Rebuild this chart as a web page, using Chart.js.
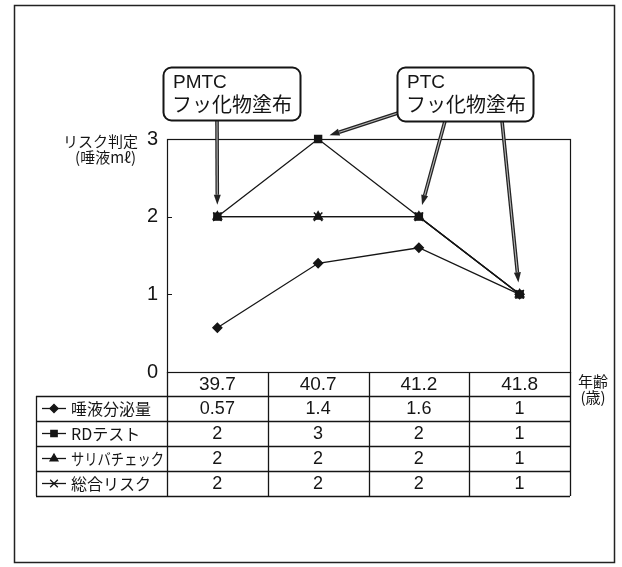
<!DOCTYPE html>
<html>
<head>
<meta charset="utf-8">
<script src="https://cdn.jsdelivr.net/npm/chart.js@4/dist/chart.umd.min.js"></script>
<style>
  html, body { margin: 0; padding: 0; background: #fff; }
</style>
</head>
<body>
<canvas id="riskChart" width="622" height="567"></canvas>
<script>
const ages = ['39.7', '40.7', '41.2', '41.8'];
const saliva = [0.57, 1.4, 1.6, 1];
const rdTest = [2, 3, 2, 1];
const salivaCheck = [2, 2, 2, 1];
const totalRisk = [2, 2, 2, 1];
const yTicks = [0, 1, 2, 3];
const seriesNames = ['唾液分泌量', 'RDテスト', 'サリバチェック', '総合リスク'];

const INK = '#151515';
const NUM_FONT = '"Liberation Sans", Arial, sans-serif';
const JP_FONT = '"Noto Sans CJK JP", sans-serif';

// callout boxes; each arrow points at [dataset, index]
const notes = [
    { lines: ['PMTC', 'フッ化物塗布'], box: [163, 67, 137, 53],
      arrows: [{ from: [217, 120], to: [1, 0] }] },
    { lines: ['PTC', 'フッ化物塗布'], box: [397, 67, 136, 54],
      arrows: [{ from: [398, 113], to: [1, 1] },
               { from: [445, 121], to: [1, 2] },
               { from: [502, 121], to: [1, 3] }] }
];

function drawArrow(ctx, x0, y0, tx, ty) {
    const dx = tx - x0, dy = ty - y0;
    const len = Math.hypot(dx, dy);
    const ux = dx / len, uy = dy / len;
    const tipX = tx - ux * 12, tipY = ty - uy * 12;
    const baseX = tipX - ux * 10, baseY = tipY - uy * 10;
    ctx.save();
    ctx.lineCap = 'butt';
    ctx.strokeStyle = '#222';
    ctx.lineWidth = 3.6;
    ctx.beginPath(); ctx.moveTo(x0, y0); ctx.lineTo(baseX, baseY); ctx.stroke();
    ctx.strokeStyle = '#b5b5b5';
    ctx.lineWidth = 1.1;
    ctx.beginPath(); ctx.moveTo(x0, y0); ctx.lineTo(baseX, baseY); ctx.stroke();
    ctx.fillStyle = '#222';
    ctx.beginPath();
    ctx.moveTo(tipX, tipY);
    ctx.lineTo(baseX - uy * 3.5, baseY + ux * 3.5);
    ctx.lineTo(baseX + uy * 3.5, baseY - ux * 3.5);
    ctx.closePath();
    ctx.fill();
    ctx.restore();
}

const riskFrame = {
    id: 'riskFrame',
    beforeDraw(chart) {
        const ctx = chart.ctx;
        ctx.save();
        ctx.fillStyle = '#fff';
        ctx.fillRect(0, 0, chart.width, chart.height);
        ctx.strokeStyle = '#222';
        ctx.lineWidth = 1.5;
        ctx.strokeRect(14.5, 5.5, 600, 557);
        ctx.restore();
    },
    beforeDatasetsDraw(chart) {
        const ctx = chart.ctx, ca = chart.chartArea, y = chart.scales.y;
        ctx.save();
        ctx.strokeStyle = INK;
        ctx.lineWidth = 1.2;
        ctx.strokeRect(ca.left + 0.5, ca.top + 0.5, ca.right - ca.left, ca.bottom - ca.top);
        ctx.beginPath();
        yTicks.forEach(v => {
            const py = Math.round(y.getPixelForValue(v)) + 0.5;
            ctx.moveTo(ca.left, py);
            ctx.lineTo(ca.left + 5, py);
        });
        ctx.stroke();
        ctx.restore();
    },
    afterDraw(chart) {
        const ctx = chart.ctx, ca = chart.chartArea, xs = chart.scales.x;
        ctx.save();
        ctx.fillStyle = INK;

        // axis titles
        ctx.font = '15px ' + JP_FONT;
        ctx.textAlign = 'right';
        ctx.textBaseline = 'middle';
        ctx.fillText('リスク判定', 138, 141);
        ctx.fillText('(唾液mℓ)', 136, 157);
        ctx.textAlign = 'center';
        ctx.fillText('年齢', 593, 381);
        ctx.fillText('(歳)', 593, 397);

        // data table under the plot
        const colW = (ca.right - ca.left) / ages.length;
        const top = ca.bottom, headH = 24, rowH = 25, labelLeft = 36;
        const bottom = top + headH + rowH * seriesNames.length;
        ctx.strokeStyle = INK;
        ctx.lineWidth = 1.3;
        ctx.beginPath();
        for (let r = 0; r <= seriesNames.length; r++) {
            const py = Math.round(top + headH + r * rowH) + 0.5;
            ctx.moveTo(labelLeft, py);
            ctx.lineTo(ca.right, py);
        }
        ctx.moveTo(labelLeft + 0.5, top + headH);
        ctx.lineTo(labelLeft + 0.5, bottom);
        for (let c = 0; c <= ages.length; c++) {
            const px = Math.round(ca.left + c * colW) + 0.5;
            ctx.moveTo(px, top);
            ctx.lineTo(px, bottom);
        }
        ctx.stroke();

        ctx.textAlign = 'center';
        ctx.font = '19px ' + NUM_FONT;
        ages.forEach((a, i) => ctx.fillText(a, xs.getPixelForValue(i), top + headH / 2 + 1));

        chart.data.datasets.forEach((ds, r) => {
            const cy = top + headH + rowH * r + rowH / 2;
            // legend sample
            ctx.strokeStyle = INK;
            ctx.lineWidth = 1.3;
            ctx.beginPath();
            ctx.moveTo(42, cy); ctx.lineTo(66, cy);
            ctx.stroke();
            ctx.fillStyle = INK;
            Chart.helpers.drawPoint(ctx, {
                pointStyle: ds.pointStyle, radius: ds.pointRadius * 0.9,
                borderWidth: ds.pointBorderWidth || 1, rotation: 0
            }, 54, cy);
            ctx.font = '16px ' + JP_FONT;
            ctx.textAlign = 'left';
            ctx.fillText(ds.label, 71, cy, 93);
            ctx.font = '18px ' + NUM_FONT;
            ctx.textAlign = 'center';
            ds.data.forEach((v, i) => ctx.fillText(String(v), xs.getPixelForValue(i), cy + 1));
        });

        // callouts
        notes.forEach(n => {
            const [bx, by, bw, bh] = n.box;
            n.arrows.forEach(a => {
                const pt = chart.getDatasetMeta(a.to[0]).data[a.to[1]];
                drawArrow(ctx, a.from[0], a.from[1], pt.x, pt.y);
            });
            ctx.fillStyle = '#fff';
            ctx.strokeStyle = INK;
            ctx.lineWidth = 2;
            ctx.beginPath();
            ctx.roundRect(bx + 0.5, by + 0.5, bw, bh, 8);
            ctx.fill();
            ctx.stroke();
            ctx.fillStyle = INK;
            ctx.textAlign = 'left';
            ctx.textBaseline = 'alphabetic';
            ctx.font = '19px ' + NUM_FONT;
            ctx.fillText(n.lines[0], bx + 10, by + 21);
            ctx.textBaseline = 'middle';
            ctx.font = '20px ' + JP_FONT;
            ctx.fillText(n.lines[1], bx + 9, by + 37);
        });
        ctx.restore();
    }
};

const lineStyle = {
    borderColor: INK, backgroundColor: INK, borderWidth: 1.3, tension: 0,
    pointBorderColor: INK, pointBackgroundColor: INK, fill: false, clip: false
};

new Chart(document.getElementById('riskChart'), {
    type: 'line',
    data: {
        labels: ages,
        datasets: [
            { ...lineStyle, label: seriesNames[0], data: saliva, pointStyle: 'rectRot', pointRadius: 4.5 },
            { ...lineStyle, label: seriesNames[1], data: rdTest, pointStyle: 'rect', pointRadius: 5 },
            { ...lineStyle, label: seriesNames[2], data: salivaCheck, pointStyle: 'triangle', pointRadius: 5 },
            { ...lineStyle, label: seriesNames[3], data: totalRisk, pointStyle: 'crossRot', pointRadius: 6, pointBorderWidth: 1.5 }
        ]
    },
    options: {
        responsive: false,
        animation: false,
        layout: { padding: { top: 139, right: 52, left: 0, bottom: 0 } },
        plugins: { legend: { display: false }, tooltip: { enabled: false } },
        scales: {
            x: {
                offset: true,
                grid: { display: false },
                border: { display: false },
                ticks: { display: false },
                afterFit: s => { s.height = 195; }
            },
            y: {
                min: 0,
                max: 3,
                afterBuildTicks: s => { s.ticks = yTicks.map(v => ({ value: v })); },
                grid: { display: false, drawTicks: false },
                border: { display: false },
                ticks: { padding: 9, color: INK, font: { family: NUM_FONT, size: 20 } },
                afterFit: s => { s.width = 167; }
            }
        }
    },
    plugins: [riskFrame]
});
</script>
</body>
</html>
